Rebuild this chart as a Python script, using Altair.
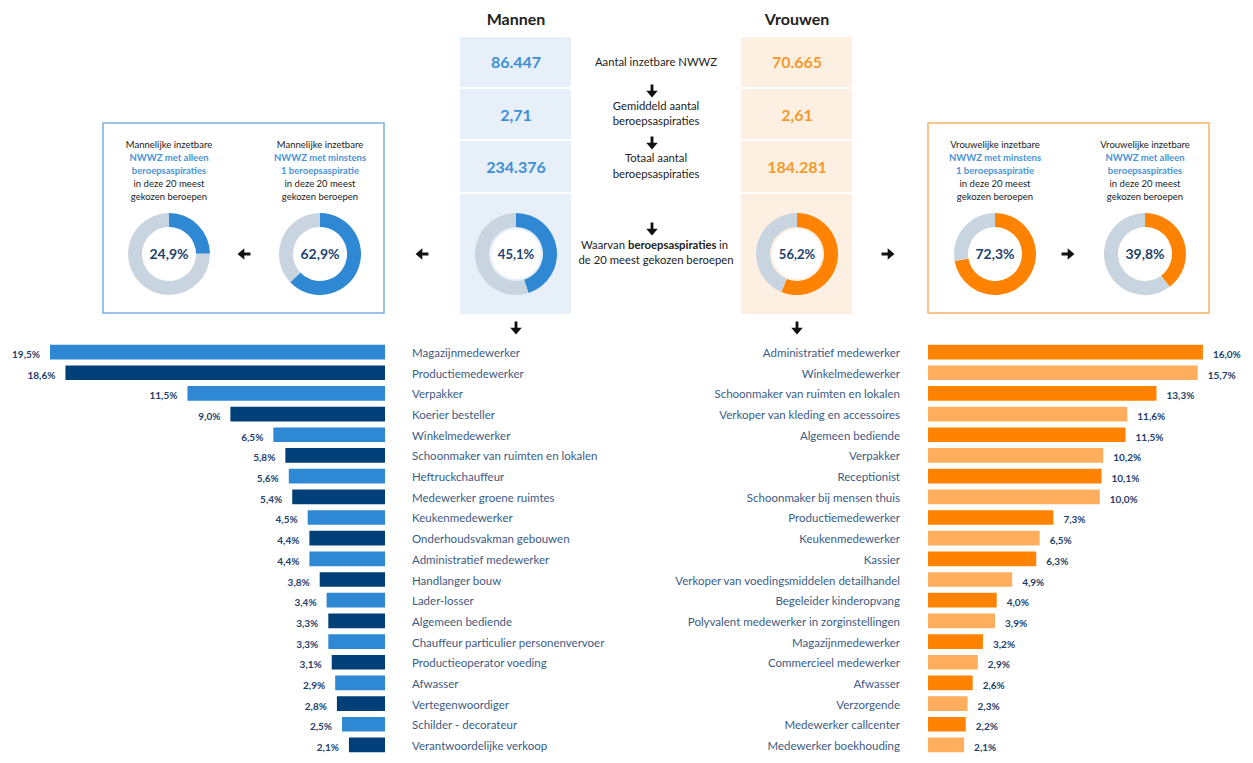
import math
import altair as alt
import pandas as pd

# ---------------- data ----------------
men_jobs = [
    "Magazijnmedewerker", "Productiemedewerker", "Verpakker", "Koerier besteller",
    "Winkelmedewerker", "Schoonmaker van ruimten en lokalen", "Heftruckchauffeur",
    "Medewerker groene ruimtes", "Keukenmedewerker", "Onderhoudsvakman gebouwen",
    "Administratief medewerker", "Handlanger bouw", "Lader-losser", "Algemeen bediende",
    "Chauffeur particulier personenvervoer", "Productieoperator voeding", "Afwasser",
    "Vertegenwoordiger", "Schilder - decorateur", "Verantwoordelijke verkoop",
]
men_pct = [19.5, 18.6, 11.5, 9.0, 6.5, 5.8, 5.6, 5.4, 4.5, 4.4,
           4.4, 3.8, 3.4, 3.3, 3.3, 3.1, 2.9, 2.8, 2.5, 2.1]

women_jobs = [
    "Administratief medewerker", "Winkelmedewerker", "Schoonmaker van ruimten en lokalen",
    "Verkoper van kleding en accessoires", "Algemeen bediende", "Verpakker", "Receptionist",
    "Schoonmaker bij mensen thuis", "Productiemedewerker", "Keukenmedewerker", "Kassier",
    "Verkoper van voedingsmiddelen detailhandel", "Begeleider kinderopvang",
    "Polyvalent medewerker in zorginstellingen", "Magazijnmedewerker",
    "Commercieel medewerker", "Afwasser", "Verzorgende", "Medewerker callcenter",
    "Medewerker boekhouding",
]
women_pct = [16.0, 15.7, 13.3, 11.6, 11.5, 10.2, 10.1, 10.0, 7.3, 6.5,
             6.3, 4.9, 4.0, 3.9, 3.2, 2.9, 2.6, 2.3, 2.2, 2.1]

men_stats = ["86.447", "2,71", "234.376"]
women_stats = ["70.665", "2,61", "184.281"]
men_top20 = 45.1
women_top20 = 56.2
men_min1 = 62.9
men_only = 24.9
women_min1 = 72.3
women_only = 39.8

# ---------------- styling ----------------
OFF = 8
W, H = 1237, 747
FONT = "Lato"
BLUE = "#2e88d4"
NAVY = "#003f78"
ORANGE = "#ff8300"
LORANGE = "#ffae5e"
GRAY = "#c8d5e1"
LABEL = "#3c5b85"
PCT = "#1e3f6d"
DARK = "#222222"
STAT_BLUE = "#3d8fd6"
STAT_ORANGE = "#f39a2b"
ROW_Y0, ROW_Y1 = 341.7 - OFF, 755.3 - OFF
PX_PER_PCT = 17.18
LEFT_X0 = 385 - OFF
RIGHT_X0 = 928 - OFF
MID = 11.3

ARROW = "M-0.22,-1 L0.22,-1 L0.22,-0.05 L0.9,-0.05 L0,1 L-0.9,-0.05 L-0.22,-0.05 Z"

one = pd.DataFrame({"k": [0]})


def fmt(v):
    return f"{v:.1f}".replace(".", ",") + "%"


def text(s, x, y, size=11, color=DARK, weight="normal", align="center"):
    return alt.Chart(pd.DataFrame({"t": [s]})).mark_text(
        font=FONT, fontSize=size, color=color, fontWeight=weight,
        align=align, baseline="middle",
    ).encode(x=alt.value(x - OFF), y=alt.value(y - OFF), text="t:N")


def rect(x1, y1, x2, y2, fill="#ffffff", opacity=1.0, stroke="#ffffff", sw=0):
    return alt.Chart(one).mark_rect(
        fill=fill, fillOpacity=opacity, stroke=stroke, strokeWidth=sw
    ).encode(x=alt.value(x1 - OFF), x2=alt.value(x2 - OFF),
             y=alt.value(y1 - OFF), y2=alt.value(y2 - OFF))


def hline(x1, x2, y, color="#ffffff", sw=2):
    return alt.Chart(one).mark_rule(color=color, strokeWidth=sw).encode(
        x=alt.value(x1 - OFF), x2=alt.value(x2 - OFF), y=alt.value(y - OFF))


def arrow(x, y, angle=0):
    kw = {"angle": angle} if angle else {}
    return alt.Chart(one).mark_point(
        shape=ARROW, filled=True, color="#111111", opacity=1, size=165, strokeWidth=0, **kw
    ).encode(x=alt.value(x - OFF), y=alt.value(y - OFF))


def donut(val, cx, cy, col, tsize=13):
    df = pd.DataFrame({"v": [val, 100 - val], "o": [0, 1], "c": [col, GRAY]})
    circ = alt.Chart(one).mark_circle(size=math.pi * 28 * 28, color="#ffffff", opacity=1).encode(
        x=alt.value(cx - OFF), y=alt.value(cy - OFF))
    ring = alt.Chart(df).mark_arc(radius=41, innerRadius=27).encode(
        theta=alt.Theta("v:Q", stack=True, scale=alt.Scale(domain=[0, 100])),
        order=alt.Order("o:Q"),
        color=alt.Color("c:N", scale=None),
        x=alt.value(cx - OFF), y=alt.value(cy - OFF),
    )
    lab = text(fmt(val), cx, cy + 1, size=tsize, color=PCT, weight="bold")
    return [circ, ring, lab]


layers = []

# ---------- headers ----------
layers.append(text("Mannen", 516, 20, size=16, color=DARK, weight="bold"))
layers.append(text("Vrouwen", 797, 20, size=16, color=DARK, weight="bold"))

# ---------- panels ----------
layers.append(rect(460, 37, 571, 314, fill="#e7f0f9"))
layers.append(rect(741, 37, 852, 314, fill="#fdf0e2"))
for yy in (88, 140, 193):
    layers.append(hline(460, 571, yy))
    layers.append(hline(741, 852, yy))
for i, yy in enumerate((63, 116, 168)):
    layers.append(text(men_stats[i], 516, yy, size=16, color=STAT_BLUE, weight="bold"))
    layers.append(text(women_stats[i], 797, yy, size=16, color=STAT_ORANGE, weight="bold"))

# ---------- middle texts ----------
layers.append(text("Aantal inzetbare NWWZ", 656, 63, size=MID))
layers.append(text("Gemiddeld aantal", 656, 107, size=MID))
layers.append(text("beroepsaspiraties", 656, 122, size=MID))
layers.append(text("Totaal aantal", 656, 159, size=MID))
layers.append(text("beroepsaspiraties", 656, 175, size=MID))
layers.append(text("Waarvan", 625, 246, size=MID, align="right"))
layers.append(text("beroepsaspiraties", 628, 246, size=MID, weight="bold", align="left"))
layers.append(text("in", 719, 246, size=MID, align="left"))
layers.append(text("de 20 meest gekozen beroepen", 656, 261, size=MID))
for yy in (91, 143, 229):
    layers.append(arrow(652, yy))

# ---------- donuts centre ----------
layers += donut(men_top20, 516, 254, BLUE)
layers += donut(women_top20, 797, 254, ORANGE)
layers.append(arrow(422, 254, 90))
layers.append(arrow(888, 254, 270))
layers.append(arrow(516, 328))
layers.append(arrow(797, 328))

# ---------- side boxes ----------
layers.append(rect(103, 123, 384, 313, fill="#ffffff", opacity=0, stroke="#79b0e0", sw=1.5))
layers.append(rect(928, 123, 1209, 313, fill="#ffffff", opacity=0, stroke="#f8b46a", sw=1.5))


def box_text(cx, lines, blue_idx):
    out = []
    for j, (s, yy) in enumerate(zip(lines, (145, 158, 171, 184, 197))):
        if j in blue_idx:
            out.append(text(s, cx, yy, size=9.5, color="#4a93d8", weight="bold"))
        else:
            out.append(text(s, cx, yy, size=9.5, color=DARK))
    return out


layers += box_text(169, ["Mannelijke inzetbare", "NWWZ met alleen", "beroepsaspiraties",
                         "in deze 20 meest", "gekozen beroepen"], (1, 2))
layers += box_text(320, ["Mannelijke inzetbare", "NWWZ met minstens", "1 beroepsaspiratie",
                         "in deze 20 meest", "gekozen beroepen"], (1, 2))
layers += box_text(995, ["Vrouwelijke inzetbare", "NWWZ met minstens", "1 beroepsaspiratie",
                         "in deze 20 meest", "gekozen beroepen"], (1, 2))
layers += box_text(1145, ["Vrouwelijke inzetbare", "NWWZ met alleen", "beroepsaspiraties",
                          "in deze 20 meest", "gekozen beroepen"], (1, 2))
layers += donut(men_only, 169, 254, BLUE, tsize=14)
layers += donut(men_min1, 320, 254, BLUE, tsize=14)
layers += donut(women_min1, 995, 254, ORANGE, tsize=14)
layers += donut(women_only, 1145, 254, ORANGE, tsize=14)
layers.append(arrow(244, 254, 90))
layers.append(arrow(1068, 254, 270))

# ---------- bar charts ----------
ranks = list(range(20))
men_df = pd.DataFrame({
    "rank": ranks, "job": men_jobs, "pct": men_pct,
    "lab": [fmt(v) for v in men_pct],
    "col": [BLUE if i % 2 == 0 else NAVY for i in ranks],
})
women_df = pd.DataFrame({
    "rank": ranks, "job": women_jobs, "pct": women_pct,
    "lab": [fmt(v) for v in women_pct],
    "col": [ORANGE if i % 2 == 0 else LORANGE for i in ranks],
})

yscale = alt.Scale(domain=ranks, range=[ROW_Y0, ROW_Y1], paddingInner=0.29, paddingOuter=0.145)
Y = alt.Y("rank:O", scale=yscale, axis=None)
xl = alt.X("pct:Q", scale=alt.Scale(domain=[0, 20], range=[LEFT_X0, LEFT_X0 - 20 * PX_PER_PCT]), axis=None)
xr = alt.X("pct:Q", scale=alt.Scale(domain=[0, 20], range=[RIGHT_X0, RIGHT_X0 + 20 * PX_PER_PCT]), axis=None)

mb = alt.Chart(men_df)
wb = alt.Chart(women_df)
layers.append(mb.mark_bar().encode(x=xl, y=Y, color=alt.Color("col:N", scale=None)))
layers.append(mb.mark_text(font=FONT, fontSize=10, fontWeight="bold", color=PCT, align="right",
                           baseline="middle", dx=-10, dy=3).encode(x=xl, y=Y, text="lab:N"))
layers.append(mb.mark_text(font=FONT, fontSize=11.5, color=LABEL, align="left",
                           baseline="middle", dy=2).encode(x=alt.value(412 - OFF), y=Y, text="job:N"))
layers.append(wb.mark_bar().encode(x=xr, y=Y, color=alt.Color("col:N", scale=None)))
layers.append(wb.mark_text(font=FONT, fontSize=10, fontWeight="bold", color=PCT, align="left",
                           baseline="middle", dx=10, dy=3).encode(x=xr, y=Y, text="lab:N"))
layers.append(wb.mark_text(font=FONT, fontSize=11.5, color=LABEL, align="right",
                           baseline="middle", dy=2).encode(x=alt.value(900 - OFF), y=Y, text="job:N"))

chart = alt.layer(*layers).resolve_scale(
    x="independent", y="independent", theta="independent"
).properties(
    width=W, height=H, padding=0, autosize="none"
).configure_view(stroke=None)

chart.save("out.html", embed_options={"renderer": "svg", "actions": False})
